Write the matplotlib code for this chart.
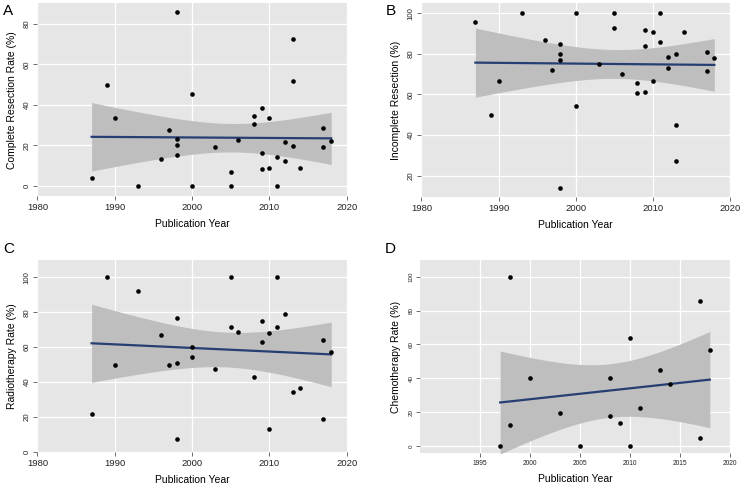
import numpy as np
import matplotlib
matplotlib.use("Agg")
import matplotlib.pyplot as plt

plt.rcParams["font.family"] = ["Liberation Sans", "DejaVu Sans"]

# A - complete resection
yrA = [1987, 1989, 1990, 1993, 1996, 1997, 1998, 1998, 1998, 1998, 2000, 2000, 2003, 2005, 2005,
       2006, 2008, 2008, 2009, 2009, 2009, 2010, 2010, 2011, 2011, 2012, 2012, 2013, 2013, 2013,
       2014, 2017, 2017, 2018]
valA = [4.2, 50, 33.3, 0, 13.3, 27.8, 86, 23, 20, 15.2, 45.5, 0, 19.4, 7.1, 0,
        22.8, 34.3, 30.4, 38.7, 16.2, 8.3, 33.3, 9.1, 14.3, 0, 21.7, 12.5, 72.7, 51.7, 19.8,
        9.1, 28.6, 19.0, 22.2]

# B - incomplete resection
yrB = [1987, 1989, 1990, 1993, 1996, 1997, 1998, 1998, 1998, 1998, 2000, 2000, 2003, 2005, 2005,
       2006, 2008, 2008, 2009, 2009, 2009, 2010, 2010, 2011, 2011, 2012, 2012, 2013, 2013, 2013,
       2014, 2017, 2017, 2018]
valB = [95.8, 50, 66.7, 100, 86.7, 72.2, 85, 80, 77, 13.8, 100, 54.5, 75, 100, 92.9,
        70.2, 65.7, 60.9, 91.7, 83.8, 61.3, 90.9, 66.7, 100, 85.7, 78.3, 72.9, 80.2, 44.8, 27.3,
        90.9, 81, 71.4, 77.8]

# C - radiotherapy
yrC = [1987, 1989, 1990, 1993, 1996, 1997, 1998, 1998, 1998, 2000, 2000, 2003, 2005, 2005,
       2006, 2008, 2009, 2009, 2010, 2010, 2011, 2011, 2012, 2013, 2014, 2017, 2017, 2018]
valC = [21.7, 100, 50, 92.3, 66.7, 50, 76.9, 50.8, 7, 60, 54.5, 47.2, 100, 71.4,
        68.4, 42.9, 75, 63, 68.2, 13.3, 100, 71.4, 79.2, 34.5, 36.4, 64.3, 19, 57.3]

# D - chemotherapy
yrD = [1997, 1998, 1998, 2000, 2003, 2005, 2008, 2008, 2009, 2010, 2010, 2011, 2013, 2014, 2017, 2017, 2018]
valD = [0, 100, 12.3, 40, 19.4, 0, 40, 17.4, 13.2, 63.6, 0, 22.2, 45, 36.4, 85.7, 4.8, 56.5]


def tval(df):
    z = 1.959964
    return z + (z**3 + z) / (4 * df) + (5 * z**5 + 16 * z**3 + 3 * z) / (96 * df**2)


def panel(ax, x, y, ylab, xlim, ylim, yticks, xticks, fx=6.8, fy=5.6):
    x = np.array(x, float)
    y = np.array(y, float)
    n = len(x)
    b, a = np.polyfit(x, y, 1)
    resid = y - (a + b * x)
    s = np.sqrt(np.sum(resid**2) / (n - 2))
    xs = np.linspace(x.min(), x.max(), 200)
    fit = a + b * xs
    se = s * np.sqrt(1 / n + (xs - x.mean())**2 / np.sum((x - x.mean())**2))
    t = tval(n - 2)
    ax.set_facecolor("#e6e6e6")
    ax.fill_between(xs, fit - t * se, fit + t * se, color="#bebebe", lw=0, zorder=2)
    ax.plot(xs, fit, color="#263e72", lw=1.6, zorder=3)
    ax.scatter(x, y, s=11, color="black", zorder=4, lw=0)
    ax.set_xlim(xlim)
    ax.set_ylim(ylim)
    ax.set_xticks(xticks)
    ax.set_yticks(yticks)
    ax.grid(True, color="white", lw=0.9, zorder=1)
    ax.set_axisbelow(True)
    for sp in ax.spines.values():
        sp.set_visible(False)
    ax.tick_params(length=3, width=0.6, color="#555555", labelcolor="#222222", pad=2)
    ax.tick_params(axis="x", labelsize=fx)
    ax.tick_params(axis="y", labelsize=fy)
    plt.setp(ax.get_yticklabels(), rotation=90, va="center")
    ax.set_xlabel("Publication Year", fontsize=7.5, labelpad=5)
    ax.set_ylabel(ylab, fontsize=7.5, labelpad=5)


fig = plt.figure(figsize=(7.42, 4.88), dpi=100)
axA = fig.add_axes([0.0505, 0.598, 0.4167, 0.395])
axB = fig.add_axes([0.568, 0.597, 0.4155, 0.396])
axC = fig.add_axes([0.0505, 0.0744, 0.4167, 0.3928])
axD = fig.add_axes([0.5665, 0.071, 0.417, 0.396])

panel(axA, yrA, valA, "Complete Resection Rate (%)", (1980, 2020), (-5, 90),
      [0, 20, 40, 60, 80], [1980, 1990, 2000, 2010, 2020])
panel(axB, yrB, valB, "Incomplete Resection (%)", (1980, 2020), (9.6, 104.9),
      [20, 40, 60, 80, 100], [1980, 1990, 2000, 2010, 2020])
panel(axC, yrC, valC, "Radiotherapy Rate (%)", (1980, 2020), (0, 110),
      [0, 20, 40, 60, 80, 100], [1980, 1990, 2000, 2010, 2020])
panel(axD, yrD, valD, "Chemotherapy Rate (%)", (1989, 2020), (-4.5, 110),
      [0, 20, 40, 60, 80, 100], [1995, 2000, 2005, 2010, 2015, 2020], fx=4.8, fy=4.5)

fig.text(0.004, 0.992, "A", fontsize=11, va="top")
fig.text(0.52, 0.992, "B", fontsize=11, va="top")
fig.text(0.004, 0.505, "C", fontsize=11, va="top")
fig.text(0.519, 0.505, "D", fontsize=11, va="top")

fig.savefig("out.png", dpi=100)
